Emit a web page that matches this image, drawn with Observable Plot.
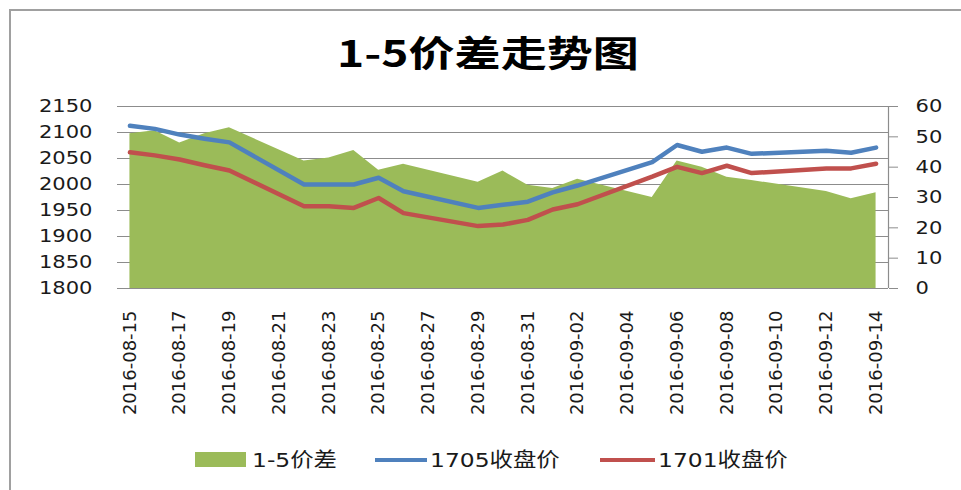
<!DOCTYPE html>
<html><head><meta charset="utf-8">
<script src="https://cdn.jsdelivr.net/npm/d3@7"></script>
<script src="https://cdn.jsdelivr.net/npm/@observablehq/plot@0.6"></script>
<style>
html,body{margin:0;padding:0;background:#fff;}
#wrap{position:relative;width:961px;height:490px;overflow:hidden;background:#fff;font-family:"DejaVu Sans","Noto Sans CJK SC",sans-serif;color:#1a1a1a;}
#frame{position:absolute;left:9px;top:9px;width:1000px;height:600px;border-left:2px solid #a0a0a0;border-top:2px solid #a0a0a0;}
#title{position:absolute;left:488px;top:51px;white-space:nowrap;font-family:"Noto Sans CJK SC",sans-serif;font-weight:bold;font-size:36px;line-height:1;color:#000;transform:translate(-50%,-50%) scaleX(1.28);}
#chart{position:absolute;left:0;top:0;}
.lt{position:absolute;top:460px;white-space:nowrap;font-family:"DejaVu Sans","Noto Sans CJK SC",sans-serif;font-size:20px;line-height:1;transform-origin:left center;transform:translateY(-50%) scaleX(1.17);color:#1a1a1a;}
.sw{position:absolute;}
</style>
</head><body>
<div id="wrap">
  <div id="frame"></div>
  <div id="chart"></div>
  <div id="title">1-5价差走势图</div>
  <div id="legend"></div>
</div>
<script>
// ---- data ----
const dates = ["2016-08-15","2016-08-16","2016-08-17","2016-08-18","2016-08-19",
  "2016-08-22","2016-08-23","2016-08-24","2016-08-25","2016-08-26",
  "2016-08-29","2016-08-30","2016-08-31","2016-09-01","2016-09-02",
  "2016-09-05","2016-09-06","2016-09-07","2016-09-08","2016-09-09",
  "2016-09-12","2016-09-13","2016-09-14"];
const close1705 = [2113,2107,2096,2088,2081, 2000,2000,2000,2013,1987, 1955,1961,1967,1985,1998, 2043,2076,2063,2071,2059, 2065,2061,2071];
const close1701 = [2062,2056,2048,2037,2027, 1958,1958,1955,1974,1945, 1920,1923,1932,1952,1962, 2015,2034,2022,2036,2022, 2031,2031,2040];
const spread = [51,52,48,51,53, 42,43,45.5,39,41, 35,38.7,34,33,36, 30,42,40,36.7,35.6, 32,29.6,31.6];
const xTickLabels = ["2016-08-15","2016-08-17","2016-08-19","2016-08-21","2016-08-23","2016-08-25",
  "2016-08-27","2016-08-29","2016-08-31","2016-09-02","2016-09-04","2016-09-06",
  "2016-09-08","2016-09-10","2016-09-12","2016-09-14"];
const leftTicks = [1800,1850,1900,1950,2000,2050,2100,2150];
const rightTicks = [0,10,20,30,40,50,60];
const seriesNames = ["1-5价差","1705收盘价","1701收盘价"];
const seriesColors = ["#9BBB59","#4F81BD","#C0504D"];

// right axis (0..60) mapped onto left scale (1800..2150)
const L0 = 1800, L1 = 2150, R0 = 0, R1 = 60;
const toLeft = v => L0 + (v - R0) * (L1 - L0) / (R1 - R0);
const toRight = v => R0 + (v - L0) * (R1 - R0) / (L1 - L0);

const data = dates.map((d, i) => ({date: new Date(d + "T00:00:00Z"), b: close1705[i], r: close1701[i], s: spread[i]}));
const xDomain = [new Date("2016-08-14T12:00:00Z"), new Date("2016-09-14T12:00:00Z")];
const grid = "#8c8c8c";

const chart = Plot.plot({
  width: 961, height: 430,
  marginLeft: 117, marginRight: 73, marginTop: 106, marginBottom: 142,
  style: {fontFamily: "DejaVu Sans", fontSize: "18px", color: "#1a1a1a", background: "transparent", overflow: "visible"},
  x: {type: "utc", domain: xDomain},
  y: {domain: [L0, L1]},
  marks: [
    Plot.ruleY(leftTicks, {stroke: grid, strokeWidth: 1}),
    Plot.areaY(data, {x: "date", y1: L0, y2: d => toLeft(d.s), fill: seriesColors[0], curve: "linear"}),
    Plot.ruleY([L0], {stroke: grid, strokeWidth: 1.2}),
    Plot.ruleX([xDomain[1]], {y1: L0, y2: L1, stroke: grid, strokeWidth: 1.2}),
    Plot.lineY(data, {x: "date", y: "b", stroke: seriesColors[1], strokeWidth: 4.5, strokeLinejoin: "round", strokeLinecap: "round"}),
    Plot.lineY(data, {x: "date", y: "r", stroke: seriesColors[2], strokeWidth: 4.5, strokeLinejoin: "round", strokeLinecap: "round"}),
    Plot.axisY({ticks: leftTicks, anchor: "left", tickSize: 0, tickPadding: 25, label: null, tickFormat: d => String(d)}),
    Plot.axisY({ticks: rightTicks.map(toLeft), anchor: "right", tickSize: 9, tickPadding: 18, stroke: grid, label: null,
      tickFormat: d => String(Math.round(toRight(d)))}),
    Plot.axisX({ticks: xTickLabels.map(s => new Date(s + "T00:00:00Z")), tickFormat: d3.utcFormat("%Y-%m-%d"),
      tickRotate: -90, tickSize: 0, tickPadding: 22, label: null})
  ]
});
document.getElementById("chart").appendChild(chart);

// emulate the horizontally wide glyphs of the original (y-axis labels only)
const SX = 1.17;
d3.select(chart).selectAll('g[aria-label="y-axis tick label"] text').each(function() {
  try {
    const L = this.getComputedTextLength();
    if (L > 0) {
      this.setAttribute("textLength", (L * SX).toFixed(2));
      this.setAttribute("lengthAdjust", "spacingAndGlyphs");
    }
  } catch (e) {}
});

// legend
const leg = document.getElementById("legend");
const items = [
  {kind: "rect", x0: 195, x1: 246, tx: 252},
  {kind: "line", x0: 375, x1: 427, tx: 430},
  {kind: "line", x0: 600, x1: 655, tx: 658}
];
items.forEach((it, i) => {
  const sw = document.createElement("div");
  sw.className = "sw";
  sw.style.left = it.x0 + "px";
  sw.style.width = (it.x1 - it.x0) + "px";
  sw.style.background = seriesColors[i];
  if (it.kind === "rect") { sw.style.top = "452px"; sw.style.height = "15px"; }
  else { sw.style.top = "458px"; sw.style.height = "4px"; }
  leg.appendChild(sw);
  const t = document.createElement("div");
  t.className = "lt";
  t.style.left = it.tx + "px";
  t.textContent = seriesNames[i];
  leg.appendChild(t);
});
</script>
</body></html>
